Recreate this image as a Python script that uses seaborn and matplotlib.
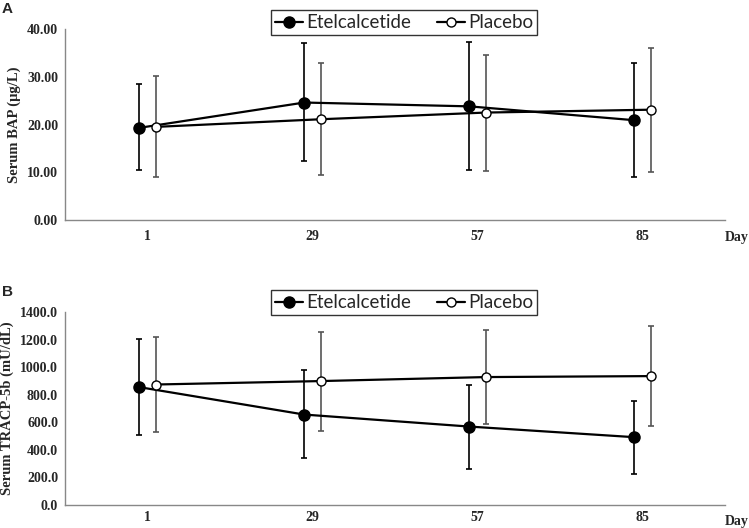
import matplotlib
matplotlib.use("Agg")
import matplotlib.pyplot as plt
import numpy as np
import pandas as pd
import seaborn as sns
from matplotlib.lines import Line2D
from matplotlib.ticker import FormatStrFormatter

days = ["1", "29", "57", "85"]

# Panel A: serum BAP (ug/L)
bap_etel = [19.3, 24.6, 23.8, 20.9]
bap_etel_lo = [10.4, 12.4, 10.4, 9.1]
bap_etel_hi = [28.4, 37.0, 37.2, 32.8]
bap_plac = [19.5, 21.1, 22.5, 23.1]
bap_plac_lo = [9.0, 9.5, 10.2, 10.1]
bap_plac_hi = [30.2, 32.9, 34.5, 36.1]

# Panel B: serum TRACP-5b (mU/dL)
tr_etel = [855, 656, 569, 492]
tr_etel_lo = [506, 342, 264, 228]
tr_etel_hi = [1206, 976, 872, 758]
tr_plac = [874, 899, 928, 935]
tr_plac_lo = [530, 540, 584, 572]
tr_plac_hi = [1219, 1257, 1267, 1296]

SERIF = "Liberation Serif"
DODGE = 0.05


def draw_panel(ax, etel, etel_lo, etel_hi, plac, plac_lo, plac_hi, ylim, yticks, fmt, ylabel, xpad):
    idx = np.arange(len(days))
    groups = [
        ("Etelcalcetide", etel, etel_lo, etel_hi, idx - DODGE, "black", "black", 8),
        ("Placebo", plac, plac_lo, plac_hi, idx + DODGE, "white", "#555555", 6.5),
    ]
    for name, vals, lo, hi, xpos, face, ecol, ms in groups:
        vals = np.asarray(vals, dtype=float)
        yerr = [vals - np.asarray(lo), np.asarray(hi) - vals]
        ax.errorbar(xpos, vals, yerr=yerr, fmt="none", ecolor=ecol, elinewidth=1.2,
                    capsize=2.5, capthick=1.2, zorder=2)
        df = pd.DataFrame({"x": xpos, "y": vals})
        sns.lineplot(data=df, x="x", y="y", ax=ax, color="black", linewidth=1.6,
                     marker="o", markersize=ms, markerfacecolor=face,
                     markeredgecolor="black", markeredgewidth=1.0, zorder=3)

    ax.set_xlim(-0.5, len(days) - 0.5)
    ax.set_xticks(np.arange(len(days) + 1) - 0.5)
    ax.set_xticklabels([])
    ax.set_xticks(idx, minor=True)
    ax.set_xticklabels(days, minor=True, fontfamily=SERIF, fontweight="bold", fontsize=10)
    ax.tick_params(axis="x", which="major", direction="in", length=4, color="#888888")
    ax.tick_params(axis="x", which="minor", length=0, pad=xpad)

    ax.set_ylim(*ylim)
    ax.set_yticks(yticks)
    ax.yaxis.set_major_formatter(FormatStrFormatter(fmt))
    ax.tick_params(axis="y", direction="out", length=3, color="#888888", pad=2)
    for lab in ax.get_yticklabels():
        lab.set_fontfamily(SERIF)
        lab.set_fontweight("bold")
        lab.set_fontsize(10)
    ax.set_ylabel(ylabel, fontfamily=SERIF, fontweight="bold", fontsize=10.5, labelpad=4)
    ax.set_xlabel("")

    for side in ["top", "right"]:
        ax.spines[side].set_visible(False)
    for side in ["left", "bottom"]:
        ax.spines[side].set_color("#888888")
        ax.spines[side].set_linewidth(1.0)
    ax.grid(False)


sns.set_theme(style="white")
fig = plt.figure(figsize=(7.49, 5.28), dpi=100)
ax_a = fig.add_axes([65 / 749, 1 - 220 / 528, 660 / 749, 191 / 528])
ax_b = fig.add_axes([65 / 749, 1 - 505 / 528, 660 / 749, 193 / 528])

draw_panel(ax_a, bap_etel, bap_etel_lo, bap_etel_hi, bap_plac, bap_plac_lo, bap_plac_hi,
           (0, 40), [0, 10, 20, 30, 40], "%.2f", "Serum BAP (μg/L)", 7)
draw_panel(ax_b, tr_etel, tr_etel_lo, tr_etel_hi, tr_plac, tr_plac_lo, tr_plac_hi,
           (0, 1400), list(range(0, 1401, 200)), "%.1f", "Serum TRACP-5b (mU/dL)", 4)

handles = [
    Line2D([], [], color="black", linewidth=1.6, marker="o", markersize=8,
           markerfacecolor="black", markeredgecolor="black"),
    Line2D([], [], color="black", linewidth=1.6, marker="o", markersize=6.5,
           markerfacecolor="white", markeredgecolor="black"),
]
for ax, ytop in [(ax_a, 528 - 1), (ax_b, 528 - 281)]:
    leg = ax.legend(handles, ["Etelcalcetide", "Placebo"], loc="upper center",
                    bbox_to_anchor=(404 / 749, ytop / 528), bbox_transform=fig.transFigure,
                    ncol=2, frameon=True, fancybox=False, handlelength=1.5,
                    handletextpad=0.15, columnspacing=1.4, borderpad=0.2,
                    prop={"family": "Lato", "size": 13.5})
    leg.get_frame().set_edgecolor("black")
    leg.get_frame().set_linewidth(1.0)

fig.text(737 / 749, 1 - 237 / 528, "Day", ha="center", va="center",
         fontfamily=SERIF, fontweight="bold", fontsize=10)
fig.text(737 / 749, 1 - 521 / 528, "Day", ha="center", va="center",
         fontfamily=SERIF, fontweight="bold", fontsize=10)
fig.text(2 / 749, 1 - 9 / 528, "A", ha="left", va="center",
         fontfamily="Liberation Sans", fontweight="bold", fontsize=11)
fig.text(2 / 749, 1 - 292 / 528, "B", ha="left", va="center",
         fontfamily="Liberation Sans", fontweight="bold", fontsize=11)

fig.savefig("out.png", dpi=100)
